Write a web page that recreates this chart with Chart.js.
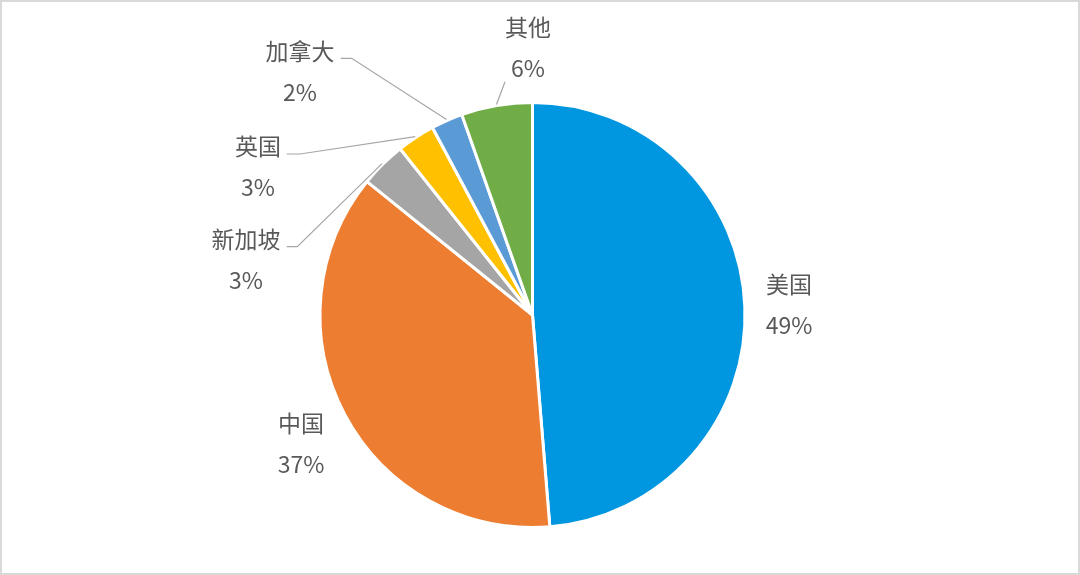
<!DOCTYPE html>
<html lang="zh">
  <head>
    <meta charset="UTF-8" />
    <title>Pie</title>
    <script src="https://cdn.jsdelivr.net/npm/chart.js"></script>
    <style>
      html, body { margin: 0; padding: 0; background: #fff; }
      #wrap { width: 1080px; height: 575px; position: relative; }
    </style>
  </head>
  <body>
    <div id="wrap"><canvas id="chart"></canvas></div>
    <script>
      // shares (percent)
      const countries = ["美国", "中国", "新加坡", "英国", "加拿大", "其他"];
      const shares = [48.7, 37.1, 3.5, 2.9, 2.4, 5.4];
      // percentage text as printed on the chart
      const pctLabels = ["49%", "37%", "3%", "3%", "2%", "6%"];
      const colors = ["#0096e0", "#ed7d31", "#a5a5a5", "#ffc000", "#5b9bd5", "#70ad47"];

      // label centres, offsets from pie centre
      const labelOffsets = [
        [256.5, -31], [-231.5, 108], [-286.5, -76],
        [-274.5, -169], [-232.5, -264], [-4.5, -287.5],
      ];
      // leader line points (offsets from centre) before reaching the slice
      const leaders = {
        2: [[-245.8, -68.3], [-235.2, -68.3]],
        3: [[-245.8, -161], [-232.5, -161]],
        4: [[-191.8, -256.7], [-180.8, -256.7]],
        5: [[-27.5, -233.3]],
      };

      const frame = {
        id: "frame",
        beforeDraw(chart) {
          const ctx = chart.ctx;
          ctx.save();
          ctx.fillStyle = "#fff";
          ctx.fillRect(0, 0, chart.width, chart.height);
          ctx.strokeStyle = "#d9d9d9";
          ctx.lineWidth = 2;
          ctx.strokeRect(1, 1, chart.width - 2, chart.height - 2);
          ctx.restore();
        },
      };

      const pieLabels = {
        id: "pieLabels",
        afterDatasetsDraw(chart) {
          const ctx = chart.ctx;
          const arcs = chart.getDatasetMeta(0).data;
          const cx = arcs[0].x, cy = arcs[0].y;
          ctx.save();
          // leader lines
          ctx.strokeStyle = "#a6a6a6";
          ctx.lineWidth = 1.2;
          for (const k in leaders) {
            const a = arcs[k];
            const mid = (a.startAngle + a.endAngle) / 2;
            const r = a.outerRadius + 1;
            ctx.beginPath();
            leaders[k].forEach((p, i) => {
              if (i == 0) ctx.moveTo(cx + p[0], cy + p[1]);
              else ctx.lineTo(cx + p[0], cy + p[1]);
            });
            ctx.lineTo(cx + Math.cos(mid) * r, cy + Math.sin(mid) * r);
            ctx.stroke();
          }
          // text
          ctx.fillStyle = "#595959";
          ctx.font = '23px "Noto Sans CJK SC", "Noto Sans", sans-serif';
          ctx.textAlign = "center";
          ctx.textBaseline = "middle";
          countries.forEach((name, i) => {
            const x = cx + labelOffsets[i][0];
            const y = cy + labelOffsets[i][1];
            ctx.fillText(name, x, y);
            ctx.fillText(pctLabels[i], x, y + 41);
          });
          ctx.restore();
        },
      };

      new Chart(document.getElementById("chart"), {
        type: "pie",
        data: {
          labels: countries,
          datasets: [
            {
              data: shares,
              backgroundColor: colors,
              borderColor: "#ffffff",
              borderWidth: 3,
            },
          ],
        },
        options: {
          responsive: true,
          maintainAspectRatio: false,
          animation: false,
          layout: { padding: { top: 101, bottom: 46, left: 100, right: 115 } },
          plugins: {
            legend: { display: false },
            tooltip: { enabled: false },
          },
        },
        plugins: [frame, pieLabels],
      });
    </script>
  </body>
</html>
